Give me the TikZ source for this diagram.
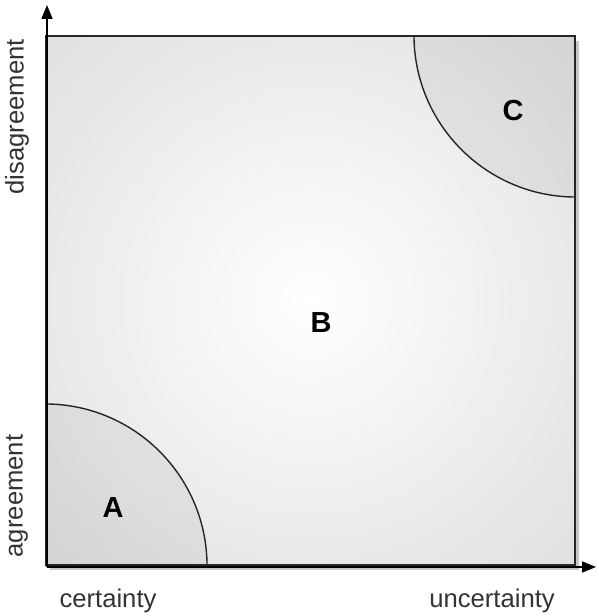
\documentclass[tikz,border=0pt]{standalone}
\usepackage{fontspec}
\setmainfont{Liberation Sans}
\usetikzlibrary{arrows.meta, calc, shadows}
\definecolor{borderdark}{RGB}{40, 40, 40}
\definecolor{fieldedge}{RGB}{192, 192, 192}
\pgfdeclareradialshading{fieldshade}{\pgfpoint{0bp}{0bp}}{color(0bp)=(white); color(72bp)=(fieldedge)}

\begin{document}
\begin{tikzpicture}[
    >={Triangle[length=0.28cm, width=0.22cm]},
    field/.style={draw=borderdark, line width=1.1pt, shading=fieldshade, minimum size=10.58cm, inner sep=0pt},
    region/.style={fill=black, opacity=0.05},
    rim/.style={line width=0.8pt, black!85},
    axis/.style={->, line width=1pt, black},
    axislabel/.style={font=\fontsize{14.6}{16}\selectfont, text=black!80},
    zone/.style={font=\fontsize{16.5}{18}\selectfont\bfseries},
]
\useasboundingbox (-0.92,-1.02) rectangle (11.06,11.30);

% ===== 区域 =====
\node[field, drop shadow={shadow xshift=0.08cm, shadow yshift=-0.1cm, opacity=0.45}] (field) at (5.29,5.29) {};

% A 区
\fill[region] (field.south west) -- ++(3.24,0) arc (0:90:3.24) -- cycle;
\draw[rim] ($(field.south west)+(3.24,0)$) arc (0:90:3.24);

% C 区
\fill[region] (field.north east) -- ++(-3.24,0) arc (180:270:3.24) -- cycle;
\draw[rim] ($(field.north east)+(-3.24,0)$) arc (180:270:3.24);

% 标签
\node[zone] (A) at (1.34,1.14) {A};
\node[zone] (B) at (5.50,4.84) {B};
\node[zone] (C) at (9.34,9.08) {C};

% ===== 坐标轴 =====
\coordinate (origin) at (0.02,-0.04);
\coordinate (ytip) at (0.02,11.20);
\coordinate (xtip) at (11.0,-0.04);
\draw[axis] (origin) -- (ytip);
\draw[axis] (origin) -- (xtip);

% 轴标签
\node[axislabel] (certainty) at (1.24,-0.72) {certainty};
\node[axislabel] (uncertainty) at (8.92,-0.72) {uncertainty};
\node[axislabel, rotate=90] (disagreement) at (-0.58,8.96) {disagreement};
\node[axislabel, rotate=90] (agreement) at (-0.58,1.38) {agreement};

\end{tikzpicture}
\end{document}
